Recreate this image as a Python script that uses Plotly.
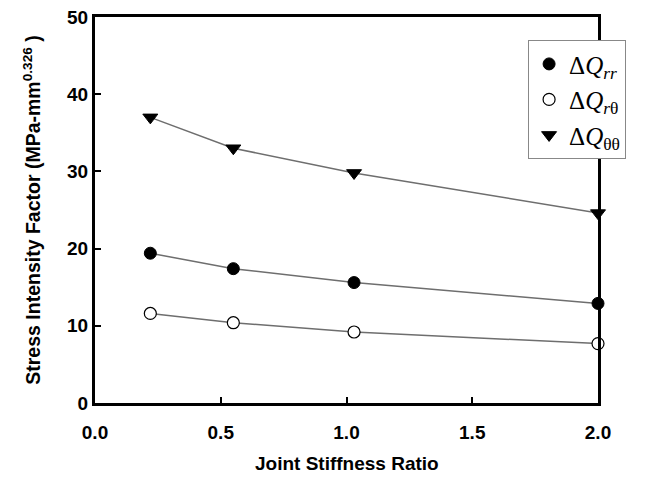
import plotly.graph_objects as go

x_vals = [0.22, 0.55, 1.03, 2.0]
q_rr = [19.4, 17.4, 15.6, 12.9]
q_rt = [11.6, 10.4, 9.2, 7.7]
q_tt = [37.0, 33.0, 29.8, 24.6]

names = ["Δ<i>Q</i><sub><i>rr</i></sub>", "Δ<i>Q</i><sub><i>r</i>θ</sub>", "Δ<i>Q</i><sub>θθ</sub>"]
x_ticks = [0, 0.5, 1.0, 1.5, 2.0]
x_ticklabels = ["0.0", "0.5", "1.0", "1.5", "2.0"]
y_ticks = [0, 10, 20, 30, 40, 50]
y_ticklabels = ["0", "10", "20", "30", "40", "50"]

markers = [
    dict(symbol="circle", size=12, color="black", line=dict(color="black", width=1)),
    dict(symbol="circle", size=12, color="white", line=dict(color="black", width=1.2)),
    dict(symbol="triangle-down", size=13, color="black", line=dict(color="black", width=1)),
]

fig = go.Figure()
line = dict(color="#6e6e6e", width=1.5)
for ys, mk, nm in zip([q_rr, q_rt, q_tt], markers, names):
    fig.add_trace(go.Scatter(x=x_vals, y=ys, mode="lines+markers", name=nm, line=line,
                             marker=mk, cliponaxis=False, showlegend=False))
    fig.add_trace(go.Scatter(x=[None], y=[None], mode="markers", name=nm, marker=mk, showlegend=True))

axis_font = dict(family="Liberation Sans, Arial", size=19, color="black")
title_font = dict(family="Liberation Sans, Arial", size=19, color="black")
fig.update_layout(
    width=662, height=477,
    margin=dict(l=87, r=72, t=9, b=82, autoexpand=False),
    plot_bgcolor="white", paper_bgcolor="white",
    showlegend=True,
    legend=dict(x=0.861, y=0.94, xanchor="left", yanchor="top",
                bordercolor="#888888", borderwidth=1, bgcolor="white",
                font=dict(family="Liberation Serif, Times New Roman", size=25, color="black"),
                itemwidth=30, tracegroupgap=0),
    xaxis=dict(range=[0, 2.0], tickvals=x_ticks, ticktext=["<b>%s</b>" % t for t in x_ticklabels],
               ticks="inside", ticklen=6, tickwidth=1.5, tickcolor="black",
               showline=True, linecolor="black", linewidth=3, mirror=True, automargin=False,
               showgrid=False, zeroline=False, tickfont=axis_font, ticklabeloverflow="allow",
               ticklabelstandoff=10),
    yaxis=dict(range=[0, 50], tickvals=y_ticks, ticktext=["<b>%s</b>" % t for t in y_ticklabels],
               ticks="inside", ticklen=6, tickwidth=1.5, tickcolor="black",
               showline=True, linecolor="black", linewidth=3, mirror=True, automargin=False,
               showgrid=False, zeroline=False, tickfont=axis_font, ticklabeloverflow="allow",
               title=dict(text="<b>Stress Intensity Factor (MPa-mm<sup>0.326</sup> )</b>", font=dict(family="Liberation Sans, Arial", size=19.5, color="black"), standoff=22)),
    annotations=[dict(text="<b>Joint Stiffness Ratio</b>", xref="paper", yref="paper", x=0.5, y=0,
                      xanchor="center", yanchor="top", yshift=-48, showarrow=False, font=title_font)],
)

fig.write_html("out.html")
